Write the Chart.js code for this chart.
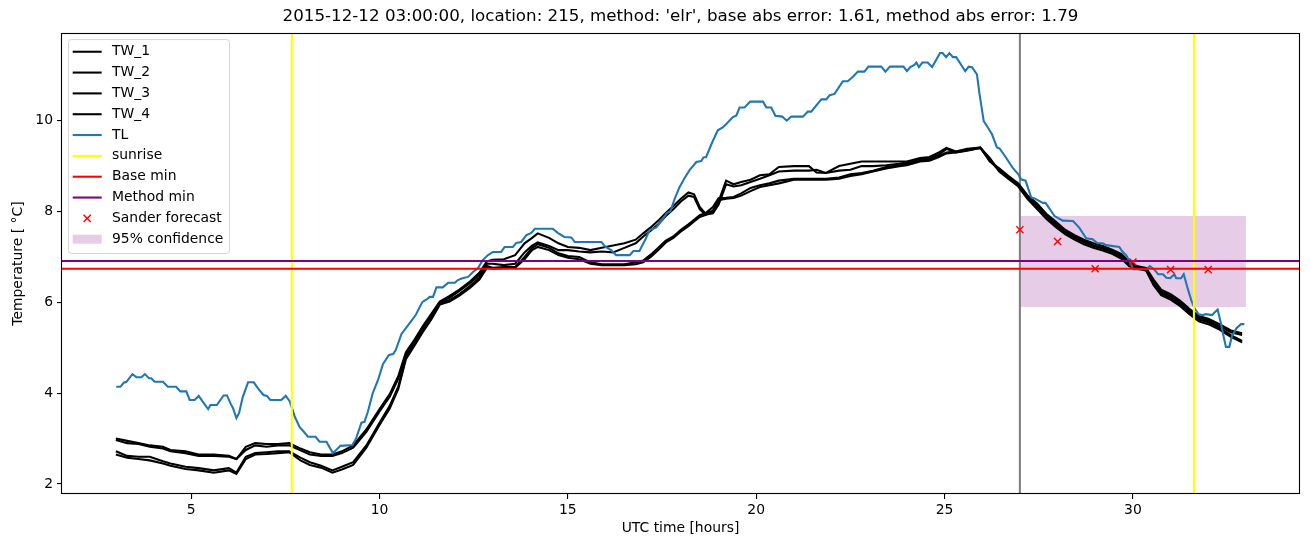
<!DOCTYPE html>
<html>
<head>
<meta charset="utf-8">
<script src="https://cdn.jsdelivr.net/npm/chart.js@4.4.1/dist/chart.umd.min.js"></script>
<style>
  html, body { margin: 0; padding: 0; background: #fff; }
  canvas { display: block; }
</style>
</head>
<body>
<canvas id="chart" width="1310" height="547"></canvas>
<script>
// Valeurs
const titleText = "2015-12-12 03:00:00, location: 215, method: 'elr', base abs error: 1.61, method abs error: 1.79";

const xTicks = [5, 10, 15, 20, 25, 30];
const yTicks = [2, 4, 6, 8, 10];
const xMin = 1.57, xMax = 34.41;
const yMin = 1.78, yMax = 11.93;

// TL : [heure, température]
const tlReadings = [
  [3.01,4.14],[3.12,4.14],[3.21,4.23],[3.28,4.25],[3.44,4.42],[3.55,4.35],[3.68,4.35],[3.77,4.42],[3.88,4.33],[3.94,4.33],
  [4.03,4.25],[4.25,4.25],[4.38,4.14],[4.60,4.14],[4.71,4.04],[4.87,4.04],[4.96,3.85],[5.09,3.85],[5.20,3.94],[5.31,3.81],
  [5.45,3.65],[5.51,3.74],[5.68,3.74],[5.86,3.95],[5.95,3.95],[6.04,3.78],[6.11,3.67],[6.20,3.45],[6.27,3.56],[6.37,3.92],
  [6.51,4.24],[6.66,4.24],[6.80,4.08],[6.92,3.96],[7.01,3.94],[7.10,3.85],[7.39,3.85],[7.51,3.94],[7.61,3.83],[7.70,3.61],
  [7.75,3.48],[7.88,3.25],[7.99,3.15],[8.10,3.04],[8.30,3.04],[8.41,2.93],[8.59,2.93],[8.76,2.68],[8.85,2.75],[8.96,2.84],
  [9.28,2.86],[9.38,3.01],[9.52,3.35],[9.60,3.37],[9.69,3.59],[9.82,4.00],[9.96,4.29],[10.09,4.64],[10.25,4.84],[10.36,4.86],
  [10.43,4.95],[10.58,5.30],[10.80,5.54],[10.96,5.72],[11.14,6.01],[11.26,6.07],[11.33,6.12],[11.42,6.12],[11.51,6.33],[11.68,6.33],
  [11.82,6.43],[12.00,6.43],[12.08,6.49],[12.20,6.53],[12.35,6.56],[12.48,6.67],[12.61,6.75],[12.74,6.93],[12.88,7.04],[13.01,7.11],
  [13.23,7.11],[13.32,7.22],[13.54,7.22],[13.63,7.31],[13.76,7.33],[13.90,7.48],[14.03,7.53],[14.12,7.62],[14.60,7.62],[14.73,7.53],
  [14.91,7.44],[15.09,7.43],[15.18,7.33],[15.89,7.33],[16.00,7.22],[16.15,7.15],[16.28,7.04],[16.64,7.04],[16.74,7.13],[16.90,7.13],
  [17.06,7.39],[17.17,7.59],[17.35,7.65],[17.52,7.83],[17.63,7.97],[17.72,8.00],[17.83,8.27],[17.96,8.53],[18.10,8.74],[18.23,8.91],
  [18.41,9.09],[18.54,9.11],[18.60,9.19],[18.67,9.20],[18.83,9.52],[18.98,9.79],[19.11,9.85],[19.20,9.92],[19.38,10.08],[19.47,10.11],
  [19.56,10.29],[19.69,10.29],[19.84,10.42],[20.18,10.42],[20.27,10.29],[20.40,10.29],[20.51,10.11],[20.69,10.09],[20.81,10.00],[20.93,10.09],
  [21.24,10.09],[21.37,10.20],[21.46,10.20],[21.73,10.47],[21.86,10.47],[21.95,10.56],[22.08,10.59],[22.30,10.87],[22.43,10.87],[22.56,10.96],
  [22.70,11.08],[22.87,11.08],[22.98,11.19],[23.32,11.19],[23.43,11.08],[23.55,11.19],[23.91,11.19],[24.00,11.09],[24.09,11.18],[24.20,11.23],
  [24.25,11.28],[24.32,11.18],[24.41,11.28],[24.55,11.28],[24.67,11.18],[24.88,11.49],[24.95,11.49],[25.04,11.40],[25.13,11.49],[25.22,11.40],
  [25.31,11.40],[25.55,11.09],[25.64,11.19],[25.73,11.18],[25.86,11.02],[25.93,10.58],[26.04,9.99],[26.15,9.85],[26.26,9.70],[26.39,9.41],
  [26.46,9.39],[26.63,9.19],[26.81,8.96],[26.96,8.82],[27.03,8.71],[27.15,8.68],[27.30,8.31],[27.39,8.29],[27.61,8.19],[27.68,8.19],
  [27.92,7.90],[28.14,7.80],[28.41,7.79],[28.58,7.64],[28.76,7.41],[28.93,7.39],[29.06,7.30],[29.20,7.30],[29.29,7.26],[29.64,7.22],
  [29.71,7.13],[29.82,7.04],[29.91,6.91],[30.01,6.73],[30.36,6.73],[30.45,6.80],[30.56,6.73],[30.67,6.62],[30.80,6.62],[30.89,6.54],
  [30.99,6.53],[31.10,6.62],[31.15,6.53],[31.28,6.53],[31.35,6.62],[31.46,6.29],[31.55,6.05],[31.63,5.88],[31.74,5.74],[31.85,5.72],
  [31.94,5.74],[32.10,5.72],[32.25,5.84],[32.34,5.53],[32.40,5.28],[32.47,5.02],[32.56,5.02],[32.63,5.26],[32.75,5.43],[32.87,5.52],
  [32.96,5.52]
];

// TW_1..TW_4 : mêmes heures pour les quatre séries
const twHours = [
  3.0, 3.3, 3.6, 3.9, 4.25, 4.45, 4.85, 5.2, 5.6, 6.0,
  6.2, 6.45, 6.7, 7.0, 7.3, 7.6, 7.9, 8.15, 8.45, 8.75,
  9.0, 9.3, 9.65, 10.0, 10.27, 10.5, 10.7, 10.93, 11.15, 11.37,
  11.6, 11.86, 12.12, 12.4, 12.65, 12.85, 13.0, 13.3, 13.6, 13.85,
  14.05, 14.2, 14.5, 14.75, 15.0, 15.3, 15.6, 15.9, 16.2, 16.5,
  16.8, 17.0, 17.2, 17.4, 17.6, 17.8, 18.0, 18.2, 18.35, 18.5,
  18.65, 18.85, 19.0, 19.2, 19.4, 19.6, 19.85, 20.1, 20.35, 20.6,
  21.0, 21.4, 21.6, 21.85, 22.2, 22.5, 22.8, 23.1, 23.45, 23.8,
  24.0, 24.35, 24.6, 24.85, 25.05, 25.3, 25.6, 25.95, 26.2, 26.45,
  26.7, 26.95, 27.2, 27.45, 27.7, 27.95, 28.2, 28.45, 28.7, 28.95,
  29.2, 29.45, 29.7, 29.9, 30.1, 30.35, 30.55, 30.75, 31.0, 31.25,
  31.5, 31.75, 32.0, 32.3, 32.6, 32.9
];
const tw1 = [
  3.0, 2.95, 2.9, 2.85, 2.82, 2.75, 2.72, 2.65, 2.65, 2.62,
  2.55, 2.82, 2.9, 2.88, 2.88, 2.9, 2.78, 2.7, 2.65, 2.65,
  2.72, 2.85, 3.2, 3.65, 3.98, 4.38, 4.9, 5.18, 5.48, 5.74,
  6.02, 6.14, 6.28, 6.46, 6.65, 6.9, 6.94, 6.95, 7.04, 7.3,
  7.42, 7.52, 7.42, 7.3, 7.22, 7.2, 7.15, 7.2, 7.25, 7.3,
  7.38, 7.52, 7.65, 7.8, 7.97, 8.12, 8.28, 8.42, 8.38, 8.1,
  7.96, 8.02, 8.22, 8.68, 8.6, 8.65, 8.7, 8.8, 8.82, 8.98,
  9.0, 9.0, 8.86, 8.85, 9.0, 9.05, 9.1, 9.1, 9.1, 9.1,
  9.1, 9.18, 9.2, 9.3, 9.4, 9.32, 9.38, 9.41, 9.1, 8.95,
  8.78, 8.62, 8.36, 8.18, 7.95, 7.78, 7.6, 7.48, 7.38, 7.3,
  7.24, 7.16, 7.06, 6.9, 6.8, 6.76, 6.5, 6.28, 6.18, 6.04,
  5.86, 5.7, 5.64, 5.52, 5.38, 5.32
];
const tw2 = [
  2.97, 2.9, 2.88, 2.82, 2.78, 2.72, 2.68, 2.62, 2.62, 2.6,
  2.55, 2.75, 2.85, 2.82, 2.85, 2.85, 2.74, 2.65, 2.62, 2.62,
  2.68, 2.8, 3.15, 3.6, 3.92, 4.32, 4.85, 5.15, 5.45, 5.72,
  6.0, 6.1, 6.25, 6.42, 6.6, 6.85, 6.85, 6.82, 6.85, 7.1,
  7.25, 7.32, 7.24, 7.15, 7.15, 7.12, 7.1, 7.12, 7.1, 7.2,
  7.3, 7.45, 7.58, 7.72, 7.9, 8.05, 8.22, 8.35, 8.32, 8.05,
  7.93, 7.96, 8.15, 8.6, 8.55, 8.58, 8.65, 8.72, 8.8, 8.88,
  8.9, 8.9, 8.92, 8.85, 8.9, 8.92, 9.0, 9.0, 9.02, 9.05,
  9.08, 9.15, 9.18, 9.25, 9.38, 9.3, 9.35, 9.4, 9.12, 8.9,
  8.75, 8.6, 8.32, 8.14, 7.92, 7.74, 7.57, 7.45, 7.35, 7.26,
  7.2, 7.13, 7.02, 6.86, 6.78, 6.74, 6.46, 6.24, 6.14, 6.0,
  5.82, 5.66, 5.6, 5.48, 5.34, 5.28
];
const tw3 = [
  2.72, 2.62, 2.6, 2.6, 2.5, 2.45, 2.38, 2.35, 2.3, 2.35,
  2.25, 2.6, 2.68, 2.7, 2.72, 2.72, 2.58, 2.48, 2.4, 2.3,
  2.38, 2.48, 2.85, 3.35, 3.72, 4.15, 4.8, 5.1, 5.4, 5.66,
  5.98, 6.05, 6.18, 6.36, 6.54, 6.8, 6.76, 6.78, 6.78, 7.0,
  7.2, 7.28, 7.2, 7.08, 7.02, 7.0, 6.88, 6.84, 6.84, 6.84,
  6.88, 6.92, 7.05, 7.2, 7.36, 7.45, 7.6, 7.72, 7.82, 7.92,
  7.96, 8.1, 8.29, 8.3, 8.32, 8.4, 8.52, 8.58, 8.62, 8.68,
  8.72, 8.72, 8.72, 8.72, 8.75, 8.82, 8.85, 8.9, 8.98, 9.02,
  9.05, 9.12, 9.15, 9.22, 9.3, 9.32, 9.36, 9.41, 9.15, 8.92,
  8.74, 8.58, 8.3, 8.1, 7.88, 7.7, 7.54, 7.42, 7.32, 7.24,
  7.18, 7.1, 7.0, 6.84, 6.76, 6.72, 6.42, 6.2, 6.1, 5.96,
  5.78, 5.62, 5.56, 5.44, 5.28, 5.15
];
const tw4 = [
  2.65, 2.58, 2.55, 2.52, 2.45, 2.4, 2.33, 2.3, 2.25, 2.3,
  2.22, 2.55, 2.65, 2.66, 2.68, 2.7, 2.52, 2.42, 2.36, 2.25,
  2.32, 2.42, 2.8, 3.3, 3.66, 4.1, 4.75, 5.05, 5.35, 5.62,
  5.95, 6.02, 6.15, 6.32, 6.5, 6.76, 6.74, 6.75, 6.76, 6.95,
  7.15, 7.22, 7.15, 7.04, 6.98, 6.95, 6.85, 6.82, 6.82, 6.82,
  6.84, 6.88, 7.0, 7.15, 7.32, 7.42, 7.56, 7.68, 7.78, 7.88,
  7.92, 8.0, 8.25, 8.28, 8.3, 8.35, 8.45, 8.54, 8.58, 8.62,
  8.7, 8.7, 8.7, 8.7, 8.72, 8.78, 8.82, 8.88, 8.95, 9.0,
  9.02, 9.1, 9.12, 9.2, 9.28, 9.3, 9.34, 9.4, 9.18, 8.88,
  8.72, 8.56, 8.28, 8.06, 7.84, 7.66, 7.5, 7.38, 7.28, 7.2,
  7.14, 7.07, 6.96, 6.8, 6.74, 6.7, 6.38, 6.16, 6.06, 5.92,
  5.74, 5.58, 5.52, 5.4, 5.24, 5.12
];

// Prévision Sander
const forecastHours = [27, 28, 29, 30, 31, 32];
const forecastValues = [7.60, 7.34, 6.74, 6.89, 6.72, 6.72];

const sunriseHours = [7.67, 31.62];
const forecastStart = 27;
const baseMin = 6.74;
const methodMin = 6.91;
const confHours = [27, 33];
const confLow = 5.9, confHigh = 7.9;

const FONT = 'DejaVu Sans';
const LW = 2.08; // 1.5 pt à 100 dpi
Chart.defaults.font.family = FONT;
Chart.defaults.color = '#000';

const twSeries = [tw1, tw2, tw3, tw4].map((vals, i) => ({
    label: 'TW_' + (i + 1),
    data: twHours.map((h, j) => ({ x: h, y: vals[j] })),
    borderColor: '#000', borderWidth: LW, order: 5
}));

const vline = (h, label, color, order) => ({
    label: label,
    data: [{ x: h, y: yMin }, { x: h, y: yMax }],
    borderColor: color, borderWidth: LW, order: order
});
const hline = (v, label, color, order) => ({
    label: label,
    data: [{ x: xMin, y: v }, { x: xMax, y: v }],
    borderColor: color, borderWidth: LW, order: order
});

const datasets = [
    ...twSeries,
    { label: 'TL', data: tlReadings.map(r => ({ x: r[0], y: r[1] })), borderColor: '#1f77b4', borderWidth: LW, order: 4 },
    vline(sunriseHours[0], 'sunrise', '#ffff00', 3),
    hline(baseMin, 'Base min', '#ff0000', 2),
    hline(methodMin, 'Method min', '#800080', 1),
    {
        label: 'Sander forecast',
        data: forecastHours.map((h, i) => ({ x: h, y: forecastValues[i] })),
        showLine: false, pointStyle: 'crossRot', pointRadius: 5,
        pointBorderColor: '#ff0000', pointBorderWidth: 1.4, order: 0
    },
    {
        label: '95% confidence',
        data: confHours.map(h => ({ x: h, y: confHigh })),
        borderWidth: 0, borderColor: 'rgba(0,0,0,0)',
        backgroundColor: 'rgba(128,0,128,0.2)', fill: { value: confLow }, order: 7
    },
    vline(sunriseHours[1], '', '#ffff00', 3),
    vline(forecastStart, '', '#808080', 6)
];

// Cadre complet + légende façon matplotlib
const frameLegend = {
    id: 'frameLegend',
    afterDraw(chart) {
        const { ctx, chartArea: a } = chart;
        ctx.save();
        ctx.strokeStyle = '#000';
        ctx.lineWidth = 1.1;
        ctx.strokeRect(Math.round(a.left) - 0.5, Math.round(a.top) + 0.5,
            Math.round(a.right - a.left) + 1, Math.round(a.bottom - a.top) - 1);

        const x0 = a.left + 6.5, y0 = a.top + 6.5;
        ctx.fillStyle = 'rgba(255,255,255,0.8)';
        ctx.strokeStyle = 'rgba(204,204,204,0.8)';
        ctx.lineWidth = 1;
        ctx.beginPath();
        ctx.roundRect(x0, y0, 161, 214, 3);
        ctx.fill();
        ctx.stroke();

        const items = chart.data.datasets.filter(d => d.label);
        ctx.font = '13.9px "' + FONT + '"';
        ctx.textBaseline = 'middle';
        items.forEach((d, i) => {
            const y = a.top + 18.7 + i * 20.83;
            const hx0 = a.left + 10.7, hx1 = a.left + 39.7;
            if (d.showLine === false) {
                const cx = (hx0 + hx1) / 2, r = 3.6;
                ctx.strokeStyle = d.pointBorderColor;
                ctx.lineWidth = 1.4;
                ctx.beginPath();
                ctx.moveTo(cx - r, y - r); ctx.lineTo(cx + r, y + r);
                ctx.moveTo(cx - r, y + r); ctx.lineTo(cx + r, y - r);
                ctx.stroke();
            } else if (d.fill) {
                ctx.fillStyle = d.backgroundColor;
                ctx.fillRect(hx0, y - 4.5, hx1 - hx0, 9);
            } else {
                ctx.strokeStyle = d.borderColor;
                ctx.lineWidth = LW;
                ctx.beginPath();
                ctx.moveTo(hx0, y); ctx.lineTo(hx1, y);
                ctx.stroke();
            }
            ctx.fillStyle = '#000';
            ctx.fillText(d.label, a.left + 50, y);
        });
        ctx.restore();
    }
};

new Chart(document.getElementById('chart'), {
    type: 'line',
    data: { datasets },
    options: {
        responsive: false,
        animation: false,
        devicePixelRatio: 1,
        events: [],
        layout: { padding: { left: 0, right: 11, top: 0, bottom: 0 } },
        elements: { point: { radius: 0 }, line: { tension: 0, fill: false } },
        plugins: {
            legend: { display: false },
            tooltip: { enabled: false },
            title: {
                display: true,
                fullSize: false,
                text: titleText,
                font: { size: 16.7, weight: 'normal' },
                padding: { top: 7, bottom: 6 }
            }
        },
        scales: {
            x: {
                type: 'linear',
                min: xMin, max: xMax,
                afterBuildTicks: s => { s.ticks = xTicks.map(v => ({ value: v })); },
                afterFit: s => { s.height = 53; },
                ticks: { font: { size: 13.9 }, padding: 3, maxRotation: 0 },
                grid: { drawOnChartArea: false, drawTicks: true, tickLength: 5, lineWidth: 1.1, color: '#000' },
                border: { display: false },
                title: { display: true, text: 'UTC time [hours]', font: { size: 13.9 }, padding: { top: 0, bottom: 10 } }
            },
            y: {
                type: 'linear',
                min: yMin, max: yMax,
                afterBuildTicks: s => { s.ticks = yTicks.map(v => ({ value: v })); },
                afterFit: s => { s.width = 62; },
                ticks: { font: { size: 13.9 }, padding: 4 },
                grid: { drawOnChartArea: false, drawTicks: true, tickLength: 5, lineWidth: 1.1, color: '#000' },
                border: { display: false },
                title: { display: true, text: 'Temperature [ °C]', font: { size: 13.9 }, padding: { top: 10, bottom: 0 } }
            }
        }
    },
    plugins: [frameLegend]
});
</script>
</body>
</html>
